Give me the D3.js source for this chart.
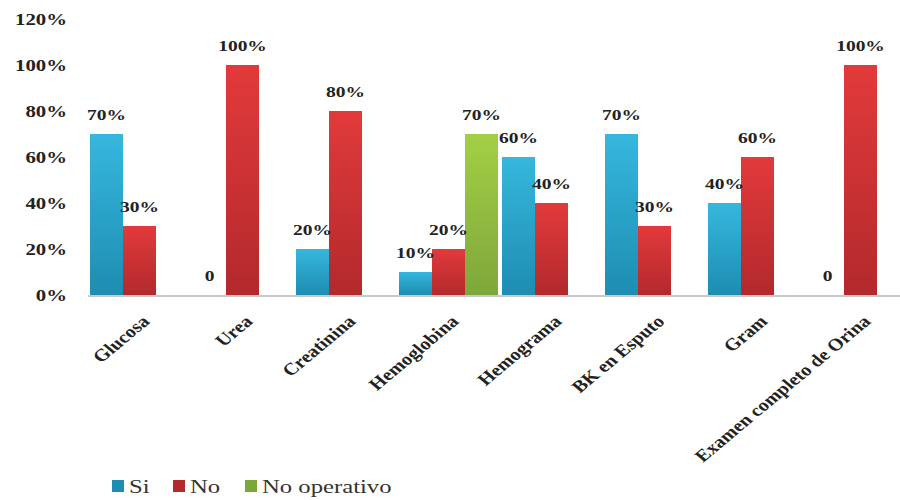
<!DOCTYPE html>
<html>
<head>
<meta charset="utf-8">
<script src="https://cdn.jsdelivr.net/npm/d3@7"></script>
<style>
  html, body { margin: 0; padding: 0; background: #ffffff; }
  svg { display: block; }
  svg text { font-family: "Liberation Serif", "Times New Roman", "DejaVu Serif", serif; }
</style>
</head>
<body>
<svg id="chart" width="900" height="500"></svg>
<script>
const categories = ["Glucosa", "Urea", "Creatinina", "Hemoglobina", "Hemograma", "BK en Esputo", "Gram", "Examen completo de Orina"];
const seriesNames = ["Si", "No", "No operativo"];
const siValues = [70, 0, 20, 10, 60, 70, 40, 0];
const noValues = [30, 100, 80, 20, 40, 30, 60, 100];
const noOperativoValues = [null, null, null, 70, null, null, null, null];
const yTicks = [0, 20, 40, 60, 80, 100, 120];
const seriesColors = {
  "Si": ["#36b7de", "#1e8db1"],
  "No": ["#e23a3b", "#b3292c"],
  "No operativo": ["#a3cf46", "#7ea73a"]
};

const seriesValues = [siValues, noValues, noOperativoValues];
const svg = d3.select("#chart");
const SX = 1.3;

const x0 = d3.scaleBand().domain(categories).range([88, 912]).paddingInner(0).paddingOuter(0);
const x1 = d3.scaleBand().domain(seriesNames).range([2, x0.bandwidth() - 2]).padding(0);
const y = d3.scaleLinear().domain([0, 120]).range([295, 19]);

// gradients
const defs = svg.append("defs");
seriesNames.forEach((s, i) => {
  const g = defs.append("linearGradient").attr("id", "grad" + i)
    .attr("x1", 0).attr("y1", 0).attr("x2", 0).attr("y2", 1);
  g.append("stop").attr("offset", "0%").attr("stop-color", seriesColors[s][0]);
  g.append("stop").attr("offset", "100%").attr("stop-color", seriesColors[s][1]);
});

// y tick labels
svg.append("g").selectAll("text").data(yTicks).join("text")
  .attr("transform", d => `translate(67,${y(d)}) scale(${SX},1)`)
  .attr("text-anchor", "end")
  .attr("dy", "0.35em")
  .attr("font-weight", "bold")
  .attr("font-size", 16)
  .attr("fill", "#222")
  .text(d => d + "%");

// bars
const rows = [];
categories.forEach((c, ci) => {
  seriesNames.forEach((s, si) => {
    const v = seriesValues[si][ci];
    if (v !== null && v !== undefined) rows.push({ c, s, si, v });
  });
});

svg.append("g").selectAll("rect").data(rows).join("rect")
  .attr("x", d => x0(d.c) + x1(d.s))
  .attr("width", x1.bandwidth())
  .attr("y", d => y(d.v))
  .attr("height", d => y(0) - y(d.v))
  .attr("fill", d => `url(#grad${d.si})`);

// baseline
svg.append("line")
  .attr("x1", 88).attr("x2", 900)
  .attr("y1", y(0) + 1).attr("y2", y(0) + 1)
  .attr("stroke", "#c9c9c9").attr("stroke-width", 2);

// value labels
svg.append("g").selectAll("text").data(rows).join("text")
  .attr("transform", d => `translate(${x0(d.c) + x1(d.s) + x1.bandwidth() / 2},${y(d.v) - 14}) scale(${SX},1)`)
  .attr("text-anchor", "middle")
  .attr("font-weight", "bold")
  .attr("font-size", 15)
  .attr("fill", "#222")
  .text(d => d.v === 0 ? "0" : d.v + "%");

// category labels
svg.append("g").selectAll("text").data(categories).join("text")
  .attr("transform", d => `translate(${x0(d) + x0.bandwidth() / 2 + 1},314) scale(1.2,1) rotate(-45)`)
  .attr("text-anchor", "end")
  .attr("dy", "0.7em")
  .attr("font-weight", "bold")
  .attr("font-size", 17)
  .attr("fill", "#222")
  .text(d => d);

// legend
const legendItems = [
  { s: "Si", x: 112 },
  { s: "No", x: 173 },
  { s: "No operativo", x: 245 }
];
const lg = svg.append("g");
legendItems.forEach(it => {
  lg.append("rect").attr("x", it.x).attr("y", 480).attr("width", 12).attr("height", 12)
    .attr("fill", seriesColors[it.s][1]);
  lg.append("text")
    .attr("transform", `translate(${it.x + 17},493) scale(${SX},1)`)
    .attr("font-size", 19)
    .attr("fill", "#333")
    .text(it.s);
});
</script>
</body>
</html>
